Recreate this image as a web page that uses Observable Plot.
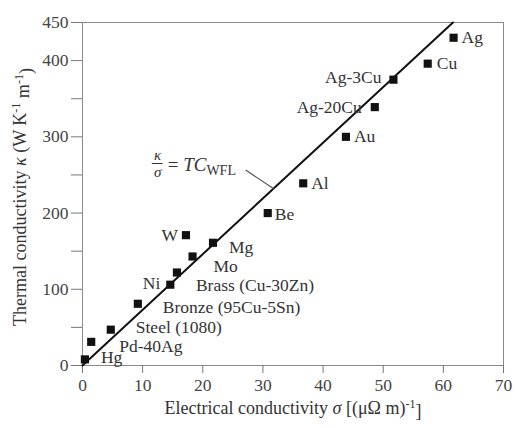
<!DOCTYPE html>
<html><head><meta charset="utf-8">
<script src="https://cdn.jsdelivr.net/npm/d3@7"></script>
<script src="https://cdn.jsdelivr.net/npm/@observablehq/plot@0.6"></script>
<style>
body{margin:0;background:#fff}
#chart svg{font-family:"Liberation Serif",serif;background:#fff}
</style>
</head><body><div id="chart"></div>
<script>
// Data
const materials = ["Hg","Pd-40Ag","Steel (1080)","Bronze (95Cu-5Sn)","Ni","Brass (Cu-30Zn)","Mo","W","Mg","Be","Al","Au","Ag-20Cu","Ag-3Cu","Cu","Ag"];
const sigma = [0.4,1.45,4.7,9.2,14.6,15.7,18.3,17.2,21.7,30.8,36.7,43.8,48.6,51.7,57.4,61.7];
const kappa = [8,31,47,81,106,122,143,171,161,200,239,300,339,375,396,430];
const lineSigma = [0, 61.6];
const lineKappa = [0, 450];
const xTicks = [0,10,20,30,40,50,60,70];
const yTicks = [0,50,100,150,200,250,300,350,400,450];
const yTickLabels = [0,100,200,300,400,450];
const annotSigma = [12.5];
const annotKappa = [265];
const leaderSigma = [27.2, 31.8];
const leaderKappa = [256, 232];

// label placement (layout only)
const place = {
  "Hg":[16,-2,"start"], "Pd-40Ag":[28,5,"start"], "Steel (1080)":[25,-2,"start"],
  "Bronze (95Cu-5Sn)":[25,4,"start"], "Ni":[-10,-1,"end"], "Brass (Cu-30Zn)":[19,13,"start"],
  "Mo":[21,10,"start"], "W":[-8,0,"end"], "Mg":[16,5,"start"], "Be":[7,1,"start"],
  "Al":[8,0,"start"], "Au":[8,0,"start"], "Ag-20Cu":[-13,0,"end"], "Ag-3Cu":[-12,-2,"end"],
  "Cu":[9,0,"start"], "Ag":[8,0,"start"]
};

const pts = materials.map((m,i)=>({name:m, s:sigma[i], k:kappa[i]}));
const line = lineSigma.map((s,i)=>({s, k:lineKappa[i]}));
const leader = leaderSigma.map((s,i)=>({s, k:leaderKappa[i]}));
const annot = annotSigma.map((s,i)=>({s, k:annotKappa[i]}));

const FS = 17.5;
const marks = [
  Plot.frame({stroke:"#8a8a8a", strokeWidth:1}),
  Plot.axisX({ticks:xTicks, tickSize:8, tickPadding:5, fontSize:FS, stroke:"#777", color:"#444", label:null}),
  Plot.axisY({ticks:yTicks, tickSize:11, tickPadding:3, fontSize:FS, stroke:"#777", color:"#444", label:null,
    tickFormat: d => yTickLabels.includes(d) ? String(d) : ""}),
  Plot.line(line, {x:"s", y:"k", stroke:"#111", strokeWidth:2}),
  Plot.line(leader, {x:"s", y:"k", stroke:"#555", strokeWidth:1.2}),
  Plot.dot(pts, {x:"s", y:"k", symbol:"square", r:4.6, fill:"#111", stroke:"none"}),
];
// point labels with individual offsets
for (const d of pts) {
  const [dx,dy,anchor] = place[d.name];
  marks.push(Plot.text([d], {x:"s", y:"k", text:"name", textAnchor:anchor, dx, dy, fontSize:FS, fill:"#333"}));
}
// annotation kappa/sigma = TC_WFL
marks.push(Plot.text(annot, {x:"s", y:"k", text:()=>"κ", dy:-8, fontSize:15, fontStyle:"italic", fill:"#333"}));
marks.push(Plot.text(annot, {x:"s", y:"k", text:()=>"σ", dy:9, fontSize:15, fontStyle:"italic", fill:"#333"}));
marks.push(Plot.ruleY(annot, {y:"k", x1:d=>d.s-0.9, x2:d=>d.s+0.9, stroke:"#333", strokeWidth:1}));
marks.push(Plot.text(annot, {x:"s", y:"k", text:()=>"= TC", dx:10, dy:1, textAnchor:"start", fontSize:19, fill:"#333", className:"tcwfl"}));
// axis labels
marks.push(Plot.text([0], {frameAnchor:"bottom", text:()=>"Electrical conductivity σ [(μΩ m)⁻¹]", dy:48, textAnchor:"middle", fontSize:18, fill:"#333", className:"xlab"}));
marks.push(Plot.text([0], {frameAnchor:"left", text:()=>"Thermal conductivity κ (W K⁻¹ m⁻¹)", dx:-62, dy:3, rotate:-90, textAnchor:"middle", fontSize:18, fill:"#333", className:"ylab"}));

const chart = Plot.plot({
  width:515, height:428,
  marginLeft:82, marginRight:12, marginTop:22, marginBottom:63,
  x:{domain:[0,70]}, y:{domain:[0,450]},
  style:{fontFamily:"Liberation Serif", background:"#fff"},
  marks
});
document.getElementById("chart").append(chart);

// rich text post-processing
const svg = d3.select(chart);
svg.selectAll(".tcwfl text").each(function(){
  const t = d3.select(this); t.text("");
  t.append("tspan").text("= ");
  t.append("tspan").attr("font-style","italic").text("TC");
  t.append("tspan").attr("font-size",14).attr("dy","0.3em").text("WFL");
});
svg.selectAll(".xlab text").each(function(){
  const t = d3.select(this); t.text("");
  t.append("tspan").text("Electrical conductivity ");
  t.append("tspan").attr("font-style","italic").text("σ");
  t.append("tspan").text(" [(μΩ m)");
  t.append("tspan").attr("font-size",12).attr("dy","-0.5em").text("-1");
  t.append("tspan").attr("dy","0.5em").text("]");
});
svg.selectAll(".ylab text").each(function(){
  const t = d3.select(this); t.text("");
  t.append("tspan").text("Thermal conductivity ");
  t.append("tspan").attr("font-style","italic").text("κ");
  t.append("tspan").text(" (W K");
  t.append("tspan").attr("font-size",12).attr("dy","-0.5em").text("-1");
  t.append("tspan").attr("dy","0.5em").text(" m");
  t.append("tspan").attr("font-size",12).attr("dy","-0.5em").text("-1");
  t.append("tspan").attr("dy","0.5em").text(")");
});
</script>
</body></html>
